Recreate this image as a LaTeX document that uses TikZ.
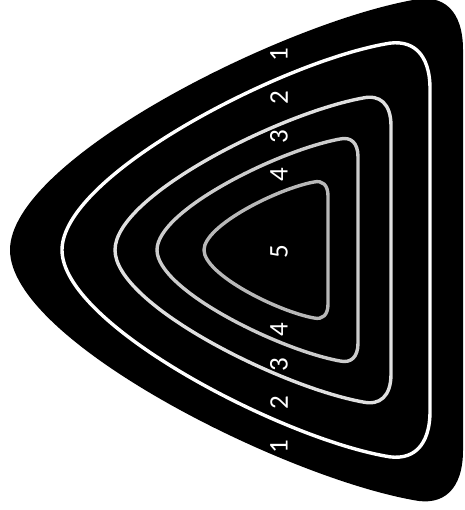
\documentclass[tikz,border=0pt]{standalone}
\usepackage{fontspec}
\setsansfont{Carlito}

% rounded pick outline: tip x, right side x, half height, corner size
\newcommand{\pickpath}[4]{%
  (#2,0) -- (#2,{#3-#4})
  .. controls (#2,{#3-0.2*#4}) and ({#2-0.4*#4},{#3+0.13*#4}) .. ({#2-#4},#3)
  .. controls ({#2-#4-0.33*(#2-#4-#1)},{#3-0.06*(#2-#4-#1)}) and (#1,{0.36*#3}) .. (#1,0)
  .. controls (#1,{-0.36*#3}) and ({#2-#4-0.33*(#2-#4-#1)},{-#3+0.06*(#2-#4-#1)}) .. ({#2-#4},-#3)
  .. controls ({#2-0.4*#4},{-#3-0.13*#4}) and (#2,{-#3+0.2*#4}) .. (#2,{-#3+#4})
  -- cycle}

\begin{document}
\begin{tikzpicture}[x=1pt, y=1pt,
    contour/.style={line width=3.4pt},
    lbl/.style={text=white, font=\sffamily\fontsize{27}{27}\selectfont, rotate=90, inner sep=0pt}]
    \useasboundingbox (0,-260) rectangle (464,250);

    % Outline
    \fill[black] \pickpath{10}{463}{250}{50};

    % Contours
    \draw[contour, white] \pickpath{62}{430}{206}{45};
    \draw[contour, white!88!black] \pickpath{115}{391}{152}{28};
    \draw[contour, white!80!black] \pickpath{157}{358}{111}{18};
    \draw[contour, white!72!black] \pickpath{204}{328}{68}{14};

    % Labels
    \node[lbl] (top1) at (279,195) {1};
    \node[lbl] (top2) at (279,152) {2};
    \node[lbl] (top3) at (279,113) {3};
    \node[lbl] (top4) at (279,75) {4};
    \node[lbl] (mid5) at (279,-2) {5};
    \node[lbl] (bot4) at (279,-80) {4};
    \node[lbl] (bot3) at (279,-115) {3};
    \node[lbl] (bot2) at (279,-153) {2};
    \node[lbl] (bot1) at (279,-197) {1};
\end{tikzpicture}
\end{document}
